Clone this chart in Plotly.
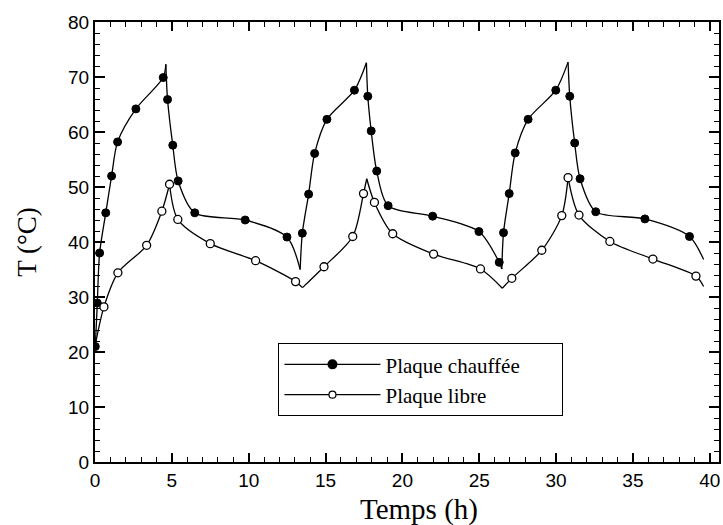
import plotly.graph_objects as go

# ---- data ----
# Plaque chauffée : marked points
heated_x = [0.02, 0.15, 0.3, 0.7, 1.08, 1.47, 2.66, 4.44, 4.72, 5.06, 5.41, 6.49, 9.77, 12.49,
            13.49, 13.9, 14.29, 15.09, 16.88, 17.75, 17.97, 18.33, 19.07, 21.97, 24.98, 26.3,
            26.58, 26.95, 27.34, 28.18, 29.98, 30.89, 31.21, 31.56, 32.58, 35.78, 38.68]
heated_y = [21.0, 28.9, 38.0, 45.3, 52.0, 58.2, 64.2, 69.9, 65.9, 57.6, 51.1, 45.3, 44.0, 40.9,
            41.6, 48.7, 56.1, 62.3, 67.6, 66.5, 60.2, 52.9, 46.6, 44.7, 41.9, 36.3,
            41.7, 48.8, 56.2, 62.3, 67.6, 66.5, 58.0, 51.5, 45.5, 44.2, 41.0]

# Plaque chauffée : continuous curve (segments between cusps, None = break)
heated_curve_x = [0.02, 0.15, 0.3, 0.7, 1.08, 1.47, 2.66, 4.44, 4.61, None,
                  4.61, 4.72, 5.06, 5.41, 6.49, 9.77, 12.49, 13.35, None,
                  13.35, 13.49, 13.9, 14.29, 15.09, 16.88, 17.66, None,
                  17.66, 17.75, 17.97, 18.33, 19.07, 21.97, 24.98, 26.3, 26.47, None,
                  26.47, 26.58, 26.95, 27.34, 28.18, 29.98, 30.78, None,
                  30.78, 30.89, 31.21, 31.56, 32.58, 35.78, 38.68, 39.6]
heated_curve_y = [21.0, 28.9, 38.0, 45.3, 52.0, 58.2, 64.2, 69.9, 72.3, None,
                  72.3, 65.9, 57.6, 51.1, 45.3, 44.0, 40.9, 35.0, None,
                  35.0, 41.6, 48.7, 56.1, 62.3, 67.6, 72.6, None,
                  72.6, 66.5, 60.2, 52.9, 46.6, 44.7, 41.9, 36.3, 35.1, None,
                  35.1, 41.7, 48.8, 56.2, 62.3, 67.6, 72.7, None,
                  72.7, 66.5, 58.0, 51.5, 45.5, 44.2, 41.0, 36.8]

# Plaque libre : marked points
free_x = [0.58, 1.49, 3.36, 4.35, 4.85, 5.39, 7.5, 10.45, 13.05, 14.9, 16.77, 17.47, 18.18,
          19.37, 22.03, 25.08, 27.12, 29.07, 30.37, 30.78, 31.49, 33.5, 36.3, 39.1]
free_y = [28.2, 34.4, 39.4, 45.6, 50.5, 44.1, 39.7, 36.6, 32.8, 35.5, 41.0, 48.8, 47.2,
          41.5, 37.8, 35.1, 33.4, 38.5, 44.8, 51.7, 44.9, 40.1, 36.9, 33.8]

# Plaque libre : continuous curve
free_curve_x = [0.0, 0.58, 1.49, 3.36, 4.35, 4.85, None,
                4.85, 5.39, 7.5, 10.45, 13.05, 13.5, None,
                13.5, 14.9, 16.77, 17.47, 17.68, None,
                17.68, 18.18, 19.37, 22.03, 25.08, 26.5, None,
                26.5, 27.12, 29.07, 30.37, 30.78, None,
                30.78, 31.49, 33.5, 36.3, 39.1, 39.6]
free_curve_y = [21.0, 28.2, 34.4, 39.4, 45.6, 50.5, None,
                50.5, 44.1, 39.7, 36.6, 32.8, 31.7, None,
                31.7, 35.5, 41.0, 48.8, 51.5, None,
                51.5, 47.2, 41.5, 37.8, 35.1, 31.6, None,
                31.6, 33.4, 38.5, 44.8, 51.7, None,
                51.7, 44.9, 40.1, 36.9, 33.8, 31.9]

series_names = ["Plaque chauffée", "Plaque libre"]
x_title = "Temps (h)"
y_title = "T (°C)"

SERIF = "Liberation Serif, Times New Roman, serif"
SANS = "Liberation Sans, Arial, sans-serif"

fig = go.Figure()

line_style = dict(color="black", width=1.3, shape="spline", smoothing=0.8)

fig.add_trace(go.Scatter(x=heated_curve_x, y=heated_curve_y, mode="lines", line=line_style,
                         connectgaps=False, showlegend=False, hoverinfo="skip"))
fig.add_trace(go.Scatter(x=free_curve_x, y=free_curve_y, mode="lines", line=line_style,
                         connectgaps=False, showlegend=False, hoverinfo="skip"))
fig.add_trace(go.Scatter(x=heated_x, y=heated_y, mode="markers", showlegend=False,
                         marker=dict(symbol="circle", size=8, color="black",
                                     line=dict(color="black", width=1))))
fig.add_trace(go.Scatter(x=free_x, y=free_y, mode="markers", showlegend=False,
                         marker=dict(symbol="circle", size=8, color="white",
                                     line=dict(color="black", width=1.3))))

# legend entries
pad = "\u00a0" * 7
fig.add_trace(go.Scatter(x=[None], y=[None], mode="lines+markers", name=series_names[0] + pad,
                         legendgroup="a", line=dict(color="black", width=1.3),
                         marker=dict(symbol="circle", size=10, color="black")))
fig.add_trace(go.Scatter(x=[None], y=[None], mode="lines+markers", name=series_names[1] + pad,
                         legendgroup="b", line=dict(color="black", width=1.3),
                         marker=dict(symbol="circle", size=7, color="white",
                                     line=dict(color="black", width=1.2))))

axis_common = dict(showline=True, linecolor="black", linewidth=2, mirror="ticks",
                   ticks="inside", tickcolor="black", tickwidth=1.5,
                   showgrid=False, zeroline=False,
                   tickfont=dict(family=SANS, size=19, color="black"))

fig.update_xaxes(range=[0, 40.6], tick0=0, dtick=5, ticklen=9,
                 minor=dict(ticks="inside", dtick=1, ticklen=5, tickcolor="black", tickwidth=1),
                 **axis_common)
fig.update_yaxes(range=[0, 80], tick0=0, dtick=10, ticklen=10,
                 minor=dict(ticks="inside", dtick=2, ticklen=5, tickcolor="black", tickwidth=1),
                 title=dict(text=y_title, standoff=24,
                            font=dict(family=SERIF, size=27, color="black")),
                 **axis_common)

fig.add_annotation(text=x_title, xref="paper", yref="paper", x=0.519, y=-0.109,
                   xanchor="center", yanchor="middle", showarrow=False,
                   font=dict(family=SERIF, size=29, color="black"))

fig.update_layout(
    width=723, height=525,
    margin=dict(l=95, r=2, t=22, b=63),
    plot_bgcolor="white", paper_bgcolor="white",
    legend=dict(x=0.294, y=0.27, xanchor="left", yanchor="top",
                bgcolor="white", bordercolor="black", borderwidth=1,
                traceorder="grouped", tracegroupgap=0, itemwidth=96,
                font=dict(family=SERIF, size=21, color="black")),
)

fig.write_html("out.html")
